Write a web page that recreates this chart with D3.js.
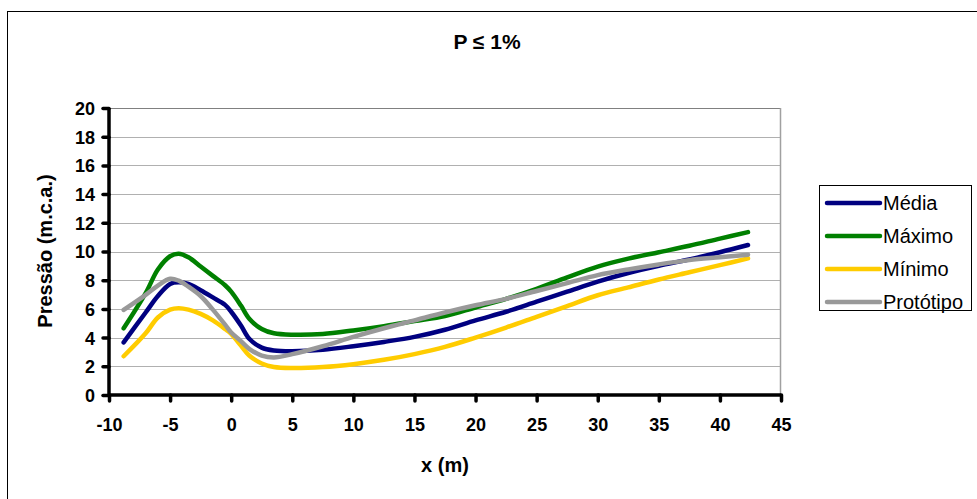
<!DOCTYPE html>
<html><head><meta charset="utf-8">
<script src="https://cdn.jsdelivr.net/npm/d3@7"></script>
<style>body{margin:0;background:#fff}svg{display:block}text{font-family:"Liberation Sans",Arial,sans-serif}</style>
</head><body><svg id="c" width="977" height="499"></svg>
<script>
const xs = [-8.8,-7,-6,-5,-4.3,-3.5,-2.5,-1.5,-0.5,0,0.8,1.5,2.5,3.5,5,7.5,10,12.5,15,17.5,20,22.5,25,27.5,30,32.5,35,37.5,40,42.3];
const media     = [3.67,5.75,6.9,7.74,7.85,7.74,7.3,6.8,6.28,5.8,4.84,3.9,3.3,3.1,3.05,3.15,3.4,3.7,4.05,4.55,5.2,5.8,6.5,7.2,7.9,8.5,9.0,9.45,9.95,10.45];
const maximo    = [4.65,7.1,8.75,9.67,9.85,9.6,8.95,8.3,7.65,7.2,6.23,5.3,4.6,4.3,4.2,4.25,4.5,4.8,5.15,5.5,6.1,6.7,7.4,8.2,8.95,9.5,9.95,10.4,10.9,11.35];
const minimo    = [2.7,4.3,5.4,5.95,6.05,5.95,5.65,5.2,4.6,4.26,3.44,2.74,2.2,1.95,1.88,1.95,2.15,2.45,2.85,3.35,4.0,4.7,5.45,6.2,6.95,7.5,8.05,8.55,9.05,9.52];
const prototipo = [5.93,6.98,7.63,8.1,7.97,7.55,6.9,5.95,4.9,4.35,3.75,3.2,2.75,2.62,2.85,3.4,4.05,4.65,5.2,5.75,6.25,6.7,7.25,7.8,8.35,8.75,9.1,9.4,9.6,9.78];
const seriesNames = ["Média","Máximo","Mínimo","Protótipo"];
const seriesColors = ["#000080","#008000","#FFCC00","#999999"];
const xTicks = [-10,-5,0,5,10,15,20,25,30,35,40,45];
const yTicks = [0,2,4,6,8,10,12,14,16,18,20];
const title = "P ≤ 1%";
const xTitle = "x (m)";
const yTitle = "Pressão (m.c.a.)";

const svg = d3.select("#c");
const L=109,R=781,T=108,B=395;
const x = d3.scaleLinear().domain([-10,45]).range([L,R]);
const y = d3.scaleLinear().domain([0,20]).range([B,T]);

// outer border
svg.append("rect").attr("x",7.5).attr("y",11.5).attr("width",1000).attr("height",600)
  .attr("fill","none").attr("stroke","#000").attr("stroke-width",1);

// grid
svg.append("g").selectAll("line").data(yTicks.filter(d=>d>0)).join("line")
  .attr("x1",L).attr("x2",R).attr("y1",d=>Math.round(y(d))+0.5).attr("y2",d=>Math.round(y(d))+0.5)
  .attr("stroke",d=>d===20?"#808080":"#b0b0b0").attr("stroke-width",1);
svg.append("line").attr("x1",R-0.5).attr("x2",R-0.5).attr("y1",T).attr("y2",B).attr("stroke","#a0a0a0").attr("stroke-width",1.5);

// lines
const all = [media,maximo,minimo,prototipo];
const line = d3.line().x((d,i)=>x(xs[i])).y(d=>y(d)).curve(d3.curveCatmullRom.alpha(0.5));
svg.append("g").selectAll("path").data(all).join("path")
  .attr("d",d=>line(d)).attr("fill","none").attr("stroke",(d,i)=>seriesColors[i])
  .attr("stroke-width",4.5).attr("stroke-linecap","round").attr("stroke-linejoin","round");

// axes
const fmt = d => String(d);
const xa = svg.append("g").attr("transform",`translate(0,${B})`)
  .call(d3.axisBottom(x).tickValues(xTicks).tickSize(6).tickPadding(17).tickFormat(fmt));
const ya = svg.append("g").attr("transform",`translate(${L},0)`)
  .call(d3.axisLeft(y).tickValues(yTicks).tickSize(6).tickPadding(8).tickFormat(fmt));
[xa,ya].forEach(g=>{
  g.select(".domain").attr("stroke","#000").attr("stroke-width",3.5);
  g.selectAll(".tick line").attr("stroke","#000").attr("stroke-width",3.5).attr("stroke-linecap","round");
  g.selectAll(".tick text").attr("font-size",18).attr("font-weight","bold").attr("fill","#000")
   .style("font-family","'Liberation Sans',Arial,sans-serif");
});
xa.select(".domain").attr("d",`M${L},0H${R}`);
ya.select(".domain").attr("d",`M0,${T}V${B}`);
ya.selectAll(".tick text").attr("dy","0.36em");

// titles
svg.append("text").attr("x",487).attr("y",49).attr("text-anchor","middle")
  .attr("font-size",21).attr("font-weight","bold").text(title);
svg.append("text").attr("x",445).attr("y",472).attr("text-anchor","middle")
  .attr("font-size",20).attr("font-weight","bold").text(xTitle);
svg.append("text").attr("transform","translate(52,251) rotate(-90)").attr("text-anchor","middle")
  .attr("font-size",20).attr("font-weight","bold").text(yTitle);

// legend
const lg = svg.append("g");
lg.append("rect").attr("x",819.5).attr("y",185.5).attr("width",152).attr("height",125)
  .attr("fill","#fff").attr("stroke","#000").attr("stroke-width",1);
seriesNames.forEach((n,i)=>{
  const yy = 203 + i*33;
  lg.append("line").attr("x1",827).attr("x2",880).attr("y1",yy).attr("y2",yy)
    .attr("stroke",seriesColors[i]).attr("stroke-width",4.5).attr("stroke-linecap","round");
  lg.append("text").attr("x",883).attr("y",yy+7).attr("font-size",20).text(n);
});
</script></body></html>
